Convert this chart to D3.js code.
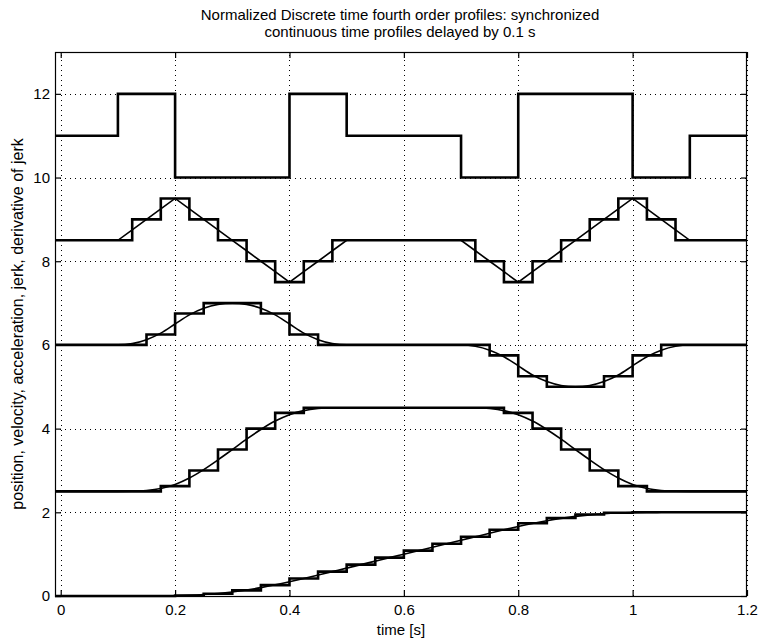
<!DOCTYPE html>
<html>
<head>
<meta charset="utf-8">
<script src="https://cdn.jsdelivr.net/npm/d3@7"></script>
<style>
  html, body { margin: 0; padding: 0; background: #fff; }
  svg { display: block; }
  text { font-family: "Liberation Sans", Arial, Helvetica, sans-serif; fill: #000; }
</style>
</head>
<body>
<svg id="chart" width="760" height="641"></svg>
<script>
// ---------- data ----------
const titleLines = ["Normalized Discrete time fourth order profiles: synchronized",
                    "continuous time profiles delayed by 0.1 s"];
const xLabel = "time [s]";
const yLabel = "position, velocity, acceleration, jerk, derivative of jerk";
const xTicks = [0, 0.2, 0.4, 0.6, 0.8, 1, 1.2];
const xTickLabels = ["0", "0.2", "0.4", "0.6", "0.8", "1", "1.2"];
const yTicks = [0, 2, 4, 6, 8, 10, 12];
const yTickLabels = ["0", "2", "4", "6", "8", "10", "12"];

// continuous-time profiles (shared time grid)
const tCont = [-0.01, 0.1, 0.125, 0.15, 0.175, 0.2, 0.225, 0.25, 0.275, 0.3, 0.325, 0.35, 0.375, 0.4,
  0.425, 0.45, 0.475, 0.5, 0.525, 0.55, 0.575, 0.6, 0.625, 0.65, 0.675, 0.7, 0.725, 0.75, 0.775, 0.8,
  0.825, 0.85, 0.875, 0.9, 0.925, 0.95, 0.975, 1.0, 1.025, 1.05, 1.075, 1.1, 1.2];
const jerkCont = [8.5, 8.5, 8.75, 9.0, 9.25, 9.5, 9.25, 9.0, 8.75, 8.5, 8.25, 8.0, 7.75, 7.5,
  7.75, 8.0, 8.25, 8.5, 8.5, 8.5, 8.5, 8.5, 8.5, 8.5, 8.5, 8.5, 8.25, 8.0, 7.75, 7.5,
  7.75, 8.0, 8.25, 8.5, 8.75, 9.0, 9.25, 9.5, 9.25, 9.0, 8.75, 8.5, 8.5];
const accCont = [6, 6, 6.031, 6.125, 6.281, 6.5, 6.719, 6.875, 6.969, 7, 6.969, 6.875, 6.719, 6.5,
  6.281, 6.125, 6.031, 6, 6, 6, 6, 6, 6, 6, 6, 6, 5.969, 5.875, 5.719, 5.5,
  5.281, 5.125, 5.031, 5, 5.031, 5.125, 5.281, 5.5, 5.719, 5.875, 5.969, 6, 6];
const velCont = [2.5, 2.5, 2.503, 2.521, 2.570, 2.667, 2.820, 3.021, 3.253, 3.5, 3.747, 3.979, 4.180, 4.333,
  4.430, 4.479, 4.497, 4.5, 4.5, 4.5, 4.5, 4.5, 4.5, 4.5, 4.5, 4.5, 4.497, 4.479, 4.430, 4.333,
  4.180, 3.979, 3.747, 3.5, 3.253, 3.021, 2.820, 2.667, 2.570, 2.521, 2.503, 2.5, 2.5];
const posCont = [0, 0, 0, 0.0004, 0.0022, 0.0069, 0.0169, 0.0343, 0.0607, 0.0972, 0.1441, 0.2010, 0.2669, 0.3403,
  0.4189, 0.5004, 0.5834, 0.6667, 0.75, 0.8333, 0.9167, 1.0, 1.0833, 1.1667, 1.25, 1.3333, 1.4166, 1.4996, 1.5811, 1.6597,
  1.7331, 1.7991, 1.8559, 1.9028, 1.9393, 1.9657, 1.9831, 1.9931, 1.9978, 1.9996, 2.0, 2.0, 2.0];

// discrete-time profiles (step start times and held values)
const djerkT = [-0.01, 0.1, 0.2, 0.4, 0.5, 0.7, 0.8, 1.0, 1.1, 1.2];
const djerkV = [11, 12, 10, 12, 11, 10, 12, 10, 11, 11];
const jerkT = [-0.01, 0.125, 0.175, 0.225, 0.275, 0.325, 0.375, 0.425, 0.475, 0.725, 0.775, 0.825, 0.875, 0.925, 0.975, 1.025, 1.075, 1.2];
const jerkV = [8.5, 9.0, 9.5, 9.0, 8.5, 8.0, 7.5, 8.0, 8.5, 8.0, 7.5, 8.0, 8.5, 9.0, 9.5, 9.0, 8.5, 8.5];
const accT = [-0.01, 0.15, 0.2, 0.25, 0.35, 0.4, 0.45, 0.75, 0.8, 0.85, 0.95, 1.0, 1.05, 1.2];
const accV = [6, 6.25, 6.75, 7, 6.75, 6.25, 6, 5.75, 5.25, 5, 5.25, 5.75, 6, 6];
const velT = [-0.01, 0.175, 0.225, 0.275, 0.325, 0.375, 0.425, 0.775, 0.825, 0.875, 0.925, 0.975, 1.025, 1.2];
const velV = [2.5, 2.625, 3.0, 3.5, 4.0, 4.375, 4.5, 4.375, 4.0, 3.5, 3.0, 2.625, 2.5, 2.5];
const posT = [-0.01, 0.2, 0.25, 0.3, 0.35, 0.4, 0.45, 0.5, 0.55, 0.6, 0.65, 0.7, 0.75, 0.8, 0.85, 0.9, 0.95, 1.0, 1.2];
const posV = [0, 0.0104, 0.0521, 0.1354, 0.2604, 0.4167, 0.5833, 0.75, 0.9167, 1.0833, 1.25, 1.4167, 1.5833, 1.7396, 1.8646, 1.9479, 1.9896, 2.0, 2.0];

// ---------- layout ----------
const W = 760, H = 641;
const m = { left: 55, right: 13, top: 52, bottom: 45 };
const svg = d3.select("#chart");
const x = d3.scaleLinear().domain([-0.01, 1.2]).range([m.left, W - m.right]);
const y = d3.scaleLinear().domain([0, 13]).range([H - m.bottom, m.top]);
const x0 = m.left, x1 = W - m.right, y0 = H - m.bottom, y1 = m.top;

// grid
const grid = svg.append("g").attr("stroke", "#000").attr("stroke-width", 1).attr("stroke-dasharray", "1,4");
grid.selectAll("line.gx").data(xTicks).join("line")
  .attr("x1", d => Math.round(x(d)) + 0.5).attr("x2", d => Math.round(x(d)) + 0.5)
  .attr("y1", y0).attr("y2", y1);
grid.selectAll("line.gy").data(yTicks.filter(d => d > 0)).join("line")
  .attr("y1", d => Math.round(y(d)) + 0.5).attr("y2", d => Math.round(y(d)) + 0.5)
  .attr("x1", x0).attr("x2", x1);

// lines
const lineCont = d3.line().x(d => x(d[0])).y(d => y(d[1])).curve(d3.curveMonotoneX);
const lineLin = d3.line().x(d => x(d[0])).y(d => y(d[1]));
const lineStep = d3.line().x(d => x(d[0])).y(d => y(d[1])).curve(d3.curveStepAfter);
const zip = (a, b) => a.map((t, i) => [t, b[i]]);

const plot = svg.append("g").attr("fill", "none").attr("stroke", "#000").attr("stroke-linejoin", "miter");
// continuous
plot.append("path").attr("d", lineLin(zip(tCont, jerkCont))).attr("stroke-width", 1.6);
plot.append("path").attr("d", lineCont(zip(tCont, accCont))).attr("stroke-width", 1.6);
plot.append("path").attr("d", lineCont(zip(tCont, velCont))).attr("stroke-width", 1.6);
plot.append("path").attr("d", lineCont(zip(tCont, posCont))).attr("stroke-width", 1.6);
// discrete
plot.append("path").attr("d", lineStep(zip(djerkT, djerkV))).attr("stroke-width", 2.6);
plot.append("path").attr("d", lineStep(zip(jerkT, jerkV))).attr("stroke-width", 2.6);
plot.append("path").attr("d", lineStep(zip(accT, accV))).attr("stroke-width", 2.6);
plot.append("path").attr("d", lineStep(zip(velT, velV))).attr("stroke-width", 2.6);
plot.append("path").attr("d", lineStep(zip(posT, posV))).attr("stroke-width", 2.6);

// box
svg.append("rect").attr("x", x0 + 0.5).attr("y", y1 + 0.5).attr("width", x1 - x0 - 1).attr("height", y0 - y1)
  .attr("fill", "none").attr("stroke", "#000").attr("stroke-width", 1.2);

// axes with inward ticks
const tl = 6;
const xAxisB = d3.axisBottom(x).tickValues(xTicks).tickSizeInner(-tl).tickSizeOuter(0).tickPadding(8)
  .tickFormat((d, i) => xTickLabels[i]);
const xAxisT = d3.axisTop(x).tickValues(xTicks).tickSizeInner(-tl).tickSizeOuter(0).tickFormat("");
const yAxisL = d3.axisLeft(y).tickValues(yTicks).tickSizeInner(-tl).tickSizeOuter(0).tickPadding(5)
  .tickFormat((d, i) => yTickLabels[i]);
const yAxisR = d3.axisRight(y).tickValues(yTicks).tickSizeInner(-tl).tickSizeOuter(0).tickFormat("");

function style(g) {
  g.select(".domain").remove();
  g.selectAll(".tick line").attr("stroke", "#000").attr("stroke-width", 1.2);
  g.selectAll(".tick text").attr("font-size", 15).attr("fill", "#000")
    .attr("font-family", "Liberation Sans, Arial, sans-serif");
}
svg.append("g").attr("transform", `translate(0,${y0})`).call(xAxisB).call(style);
svg.append("g").attr("transform", `translate(0,${y1})`).call(xAxisT).call(style);
svg.append("g").attr("transform", `translate(${x0},0)`).call(yAxisL).call(style);
svg.append("g").attr("transform", `translate(${x1},0)`).call(yAxisR).call(style);

// title
svg.append("text").attr("x", 400).attr("y", 20).attr("text-anchor", "middle").attr("font-size", 15)
  .text(titleLines[0]);
svg.append("text").attr("x", 400).attr("y", 37).attr("text-anchor", "middle").attr("font-size", 15)
  .text(titleLines[1]);
// axis labels
svg.append("text").attr("x", (x0 + x1) / 2).attr("y", 635).attr("text-anchor", "middle").attr("font-size", 15)
  .text(xLabel);
svg.append("text").attr("transform", `translate(23,${(y0 + y1) / 2}) rotate(-90)`)
  .attr("text-anchor", "middle").attr("font-size", 16).text(yLabel);
</script>
</body>
</html>
